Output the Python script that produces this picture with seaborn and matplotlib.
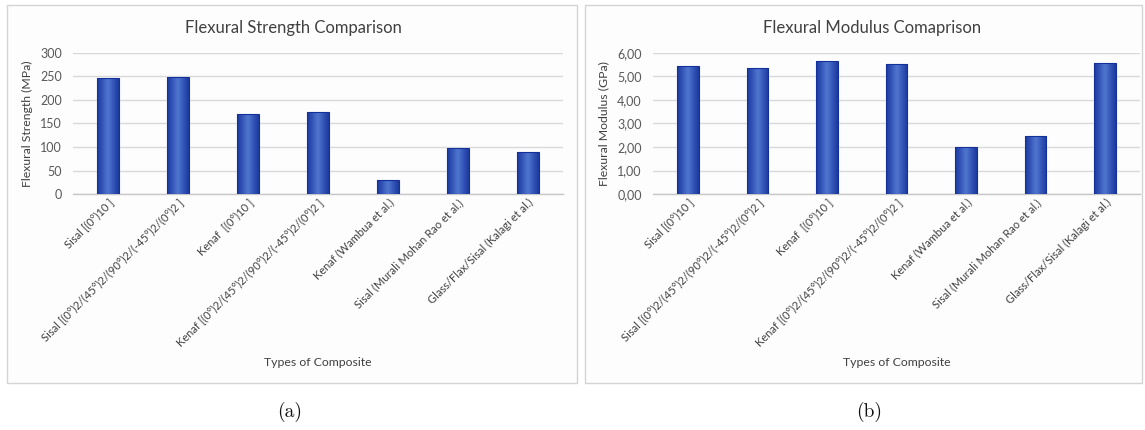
import numpy as np
import pandas as pd
import matplotlib
matplotlib.use("Agg")
import matplotlib.pyplot as plt
from matplotlib.colors import LinearSegmentedColormap
from matplotlib.patches import Rectangle
from matplotlib.ticker import FuncFormatter
import seaborn as sns

# Composite laminates compared in both panels
composites = [
    "Sisal [(0°)10 ]",
    "Sisal [(0°)2/(45°)2/(90°)2/(-45°)2/(0°)2 ]",
    "Kenaf  [(0°)10 ]",
    "Kenaf [(0°)2/(45°)2/(90°)2/(-45°)2/(0°)2 ]",
    "Kenaf (Wambua et al.)",
    "Sisal (Murali Mohan Rao et al.)",
    "Glass/Flax/Sisal (Kalagi et al.)",
]
flexural_strength_mpa = [247, 249, 171, 174, 30, 98, 89]
flexural_modulus_gpa = [5.44, 5.36, 5.68, 5.55, 1.99, 2.47, 5.58]

strength_ticks = [0, 50, 100, 150, 200, 250, 300]
modulus_ticks = [0, 1, 2, 3, 4, 5, 6]

sns.set_theme(style="white")
plt.rcParams["font.family"] = ["Lato", "DejaVu Sans"]

W, H = 1145, 430
fig = plt.figure(figsize=(W / 100, H / 100), dpi=100)
fig.patch.set_facecolor("white")

TEXT = "#404040"
TICK = "#595959"
GRID = "#d9d9d9"
bar_cmap = LinearSegmentedColormap.from_list(
    "bar", ["#1b3a9e", "#3556b8", "#5078cf", "#3556b8", "#1b3a9e"])
grad = np.linspace(0, 1, 64).reshape(1, -1)


def fx(px):
    return px / W


def fy(py):
    return 1 - py / H


# Light framed panels behind each chart
for left, right in [(7, 577), (585, 1142)]:
    fig.add_artist(Rectangle((fx(left), fy(383)), fx(right - left), (383 - 5) / H,
                             transform=fig.transFigure, facecolor="#fdfdfd",
                             edgecolor="#d4d4d4", linewidth=1.0, zorder=0))


def draw_panel(ax, values, ticks, ylabel, fmt, ylabel_x):
    df = pd.DataFrame({"composite": composites, "value": values})
    sns.barplot(data=df, x="composite", y="value", ax=ax, width=0.31,
                color="#2f52b4", saturation=1, zorder=2)
    ax.set_facecolor("none")
    ax.set_ylim(ticks[0], ticks[-1])
    ax.set_yticks(ticks)
    ax.yaxis.set_major_formatter(FuncFormatter(fmt))
    ax.grid(axis="y", color=GRID, linewidth=1.0, zorder=0)
    ax.set_axisbelow(True)
    for s in ["top", "right", "left"]:
        ax.spines[s].set_visible(False)
    ax.spines["bottom"].set_color("#c8c8c8")
    ax.spines["bottom"].set_linewidth(1.0)
    ax.tick_params(axis="y", length=0, colors=TICK, labelsize=9, pad=8)
    ax.tick_params(axis="x", length=0, colors=TEXT, pad=2)
    plt.setp(ax.get_xticklabels(), rotation=45, ha="right",
             rotation_mode="anchor", fontsize=8, color=TEXT)
    ax.set_xlabel("Types of Composite", fontsize=8.8, color=TEXT)
    ax.xaxis.label.set_va("center")
    ax.xaxis.set_label_coords(0.5, -(362 - 194) / 141)
    ax.set_ylabel(ylabel, fontsize=8.8, color=TEXT)
    ax.yaxis.set_label_coords(ylabel_x, 0.5)

    xlim, ylim = ax.get_xlim(), ax.get_ylim()
    # Shaded fill and dark outline for every bar
    for p in list(ax.patches):
        x0, y0 = p.get_x(), p.get_y()
        w, h = p.get_width(), p.get_height()
        im = ax.imshow(grad, cmap=bar_cmap, extent=[x0, x0 + w, y0, y0 + h],
                       aspect="auto", interpolation="bicubic", zorder=3)
        im.set_clip_path(p)
        ax.add_patch(Rectangle((x0, y0), w, h, fill=False,
                               edgecolor="#14309a", linewidth=0.8, zorder=4))
    ax.set_xlim(xlim)
    ax.set_ylim(ylim)


ax1 = fig.add_axes([fx(73), fy(194), fx(563 - 73), (194 - 53) / H])
ax2 = fig.add_axes([fx(653), fy(194), fx(1140 - 653), (194 - 53) / H])

draw_panel(ax1, flexural_strength_mpa, strength_ticks,
           "Flexural Strength (MPa)", lambda v, _: f"{v:.0f}", -40 / 490)
draw_panel(ax2, flexural_modulus_gpa, modulus_ticks,
           "Flexural Modulus (GPa)", lambda v, _: f"{v:.2f}".replace(".", ","),
           -44 / 487)

fig.text(fx(293), fy(28), "Flexural Strength Comparison", ha="center",
         va="center", fontsize=12, color=TEXT)
fig.text(fx(872), fy(28), "Flexural Modulus Comaprison", ha="center",
         va="center", fontsize=12, color=TEXT)

fig.text(fx(290), fy(412), "(a)", ha="center", va="center",
         fontsize=14, family="cmr10", color="#111111")
fig.text(fx(869), fy(412), "(b)", ha="center", va="center",
         fontsize=14, family="cmr10", color="#111111")

fig.savefig("out.png", dpi=100)
